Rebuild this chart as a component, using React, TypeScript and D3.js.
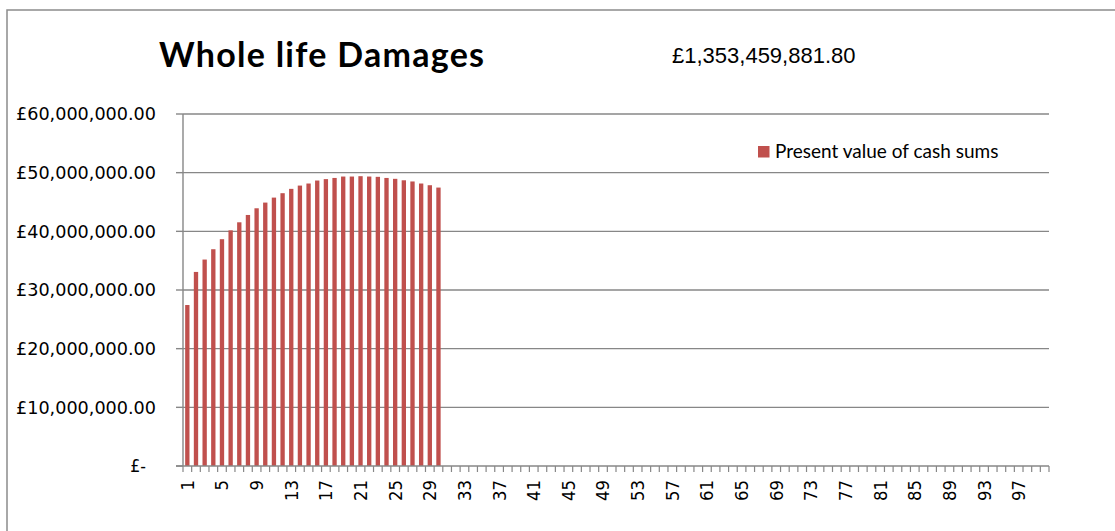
import React from "react";
import * as d3 from "d3";

// Year index along the horizontal axis
const years: number[] = d3.range(1, 101);

// Present value of cash sums per year (£)
const presentValues: number[] = [
  27440000, 33080000, 35190000, 36950000, 38660000,
  40170000, 41540000, 42790000, 43930000, 44900000,
  45750000, 46500000, 47240000, 47800000, 48150000,
  48660000, 48900000, 49100000, 49340000, 49340000,
  49400000, 49340000, 49290000, 49100000, 48950000,
  48700000, 48500000, 48150000, 47860000, 47460000,
];

const yTicks: number[] = [0, 10000000, 20000000, 30000000, 40000000, 50000000, 60000000];
const xTickLabels: number[] = years.filter((y) => (y - 1) % 4 === 0);

const title = "Whole life Damages";
const totalLabel = "£1,353,459,881.80";
const seriesName = "Present value of cash sums";

const W = 1115;
const H = 531;
const plot = { left: 183, right: 1049, top: 114, bottom: 466 };
const barColor = "#C0504D";
const gridColor = "#878787";
const labelStyle: React.CSSProperties = { fontFamily: '"DejaVu Sans Condensed"' };

const fmtMoney = (v: number) =>
  v === 0 ? "£-\u2007" : "£" + d3.format(",.2f")(v);

// width of a tick label set in the condensed axis face at the sizes used here
const moneyWidth = 140;
const digitWidth = 10.5;

export default function App() {
  const x = d3
    .scaleBand<number>()
    .domain(years)
    .range([plot.left, plot.right])
    .paddingInner(0.5)
    .paddingOuter(0.25);
  const step = (plot.right - plot.left) / years.length;
  const y = d3.scaleLinear().domain([0, 60000000]).range([plot.bottom, plot.top]);

  const boundaries = d3.range(0, years.length + 1).map((i) => plot.left + i * step);

  return (
    <svg
      width={W}
      height={H}
      style={{ position: "absolute", left: 0, top: 0, background: "#fff" }}
    >
      <rect x={7} y={10} width={1130} height={540} fill="#fff" stroke="#8c8c8c" strokeWidth={1.5} />

      {/* gridlines */}
      {yTicks.slice(1).map((t) => (
        <line key={t} x1={plot.left} x2={plot.right} y1={y(t)} y2={y(t)} stroke={gridColor} strokeWidth={1.4} />
      ))}

      {/* bars */}
      {presentValues.map((v, i) => (
        <rect
          key={i}
          x={x(years[i])!}
          y={y(v)}
          width={x.bandwidth()}
          height={y(0) - y(v)}
          fill={barColor}
        />
      ))}

      {/* y axis */}
      <line x1={plot.left} x2={plot.left} y1={plot.top} y2={plot.bottom} stroke={gridColor} strokeWidth={1.4} />
      {yTicks.map((t) => (
        <g key={t}>
          <line x1={plot.left - 7} x2={plot.left} y1={y(t)} y2={y(t)} stroke={gridColor} strokeWidth={1.4} />
          <text
            x={156}
            y={y(t)}
            dy="0.36em"
            textAnchor="end"
            style={labelStyle}
            fontSize={17.5}
            fill="#000"
            {...(t !== 0 ? { textLength: moneyWidth, lengthAdjust: "spacingAndGlyphs" } : {})}
          >
            {fmtMoney(t)}
          </text>
        </g>
      ))}

      {/* x axis */}
      <line x1={plot.left - 7} x2={plot.right} y1={plot.bottom} y2={plot.bottom} stroke={gridColor} strokeWidth={1.4} />
      {boundaries.map((bx, i) => (
        <line key={i} x1={bx} x2={bx} y1={plot.bottom} y2={plot.bottom + 6} stroke={gridColor} strokeWidth={1.2} />
      ))}
      {xTickLabels.map((yr) => {
        const cx = x(yr)! + x.bandwidth() / 2;
        return (
          <text
            key={yr}
            transform={`translate(${cx},480) rotate(-90)`}
            dy="0.36em"
            textAnchor="end"
            style={labelStyle}
            fontSize={18}
            fill="#000"
            textLength={String(yr).length * digitWidth}
            lengthAdjust="spacingAndGlyphs"
          >
            {yr}
          </text>
        );
      })}

      {/* title and total */}
      <text
        x={159}
        y={67}
        fontFamily="Lato, 'Open Sans', sans-serif"
        fontWeight={700}
        fontSize={34}
        textLength={325}
        lengthAdjust="spacing"
        fill="#000"
      >
        {title}
      </text>
      <text x={672} y={63} fontFamily="'Liberation Sans', Arial, sans-serif" fontSize={22} fill="#000">
        {totalLabel}
      </text>

      {/* legend */}
      <rect x={758} y={146} width={11.5} height={11.5} fill={barColor} />
      <text x={775} y={158} fontFamily="Lato, 'Open Sans', sans-serif" fontSize={19} fill="#000">
        {seriesName}
      </text>
    </svg>
  );
}
